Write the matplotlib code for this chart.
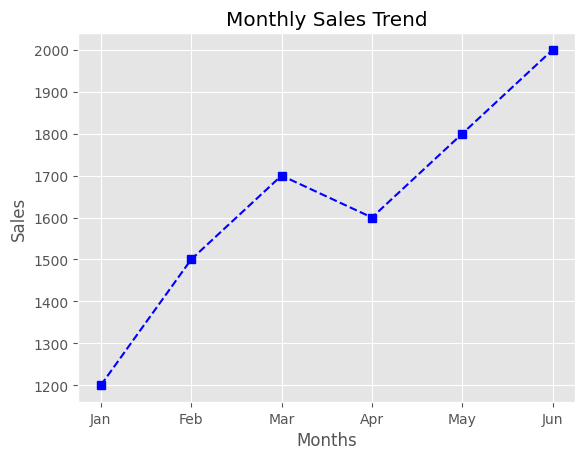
import matplotlib
matplotlib.use('Agg')
import matplotlib.pyplot as plt

# data
months = ['Jan', 'Feb', 'Mar', 'Apr', 'May', 'Jun']
sales = [1200, 1500, 1700, 1600, 1800, 2000]

plt.style.use('ggplot')

fig, ax = plt.subplots(figsize=(5.84, 4.6), dpi=100)
ax.plot(months, sales, marker='s', linestyle='--', color='blue')
ax.set_title('Monthly Sales Trend')
ax.set_xlabel('Months')
ax.set_ylabel('Sales')

fig.subplots_adjust(left=0.134, right=0.985, top=0.926, bottom=0.124)
fig.savefig('out.png')
